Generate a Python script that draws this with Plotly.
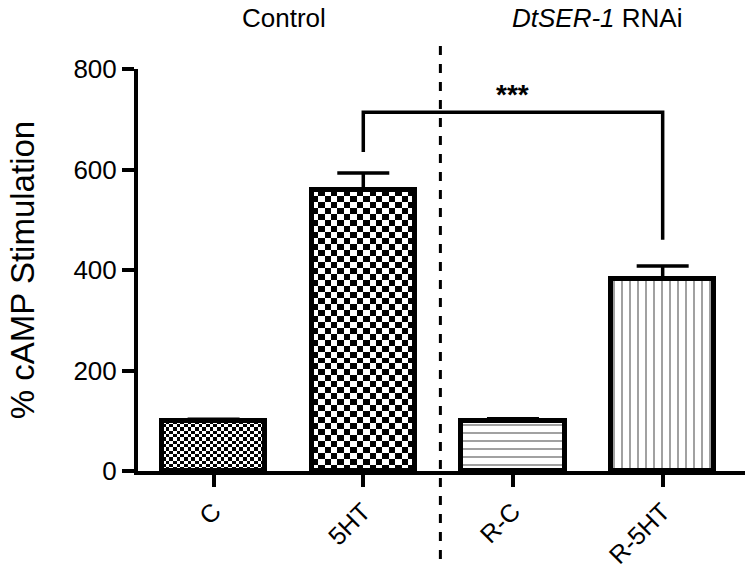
import numpy as np
import plotly.graph_objects as go

categories = ["C", "5HT", "R-C", "R-5HT"]
values = [100, 559, 100, 382]
errors = [3, 34, 4, 26]
group_labels = ["Control", "<i>DtSER-1</i> RNAi"]
y_ticks = [0, 200, 400, 600, 800]
bracket_x = [1, 1, 3, 3]
bracket_y = [635, 714, 714, 460]
sig_text = "<b>***</b>"

xpos = list(range(len(categories)))
bar_w = 0.69
FONT = "Liberation Sans, Arial, sans-serif"

fig = go.Figure()

# checkerboard fills for the Control bars (C fine, 5HT coarse)
checker = {0: (28, 6.6), 1: (16, 12.0)}
for i, (ncols, cell_h) in checker.items():
    nrows = int(round(values[i] / cell_h))
    xe = np.linspace(xpos[i] - bar_w / 2, xpos[i] + bar_w / 2, ncols + 1)
    ye = np.linspace(0, values[i], nrows + 1)
    z = (np.add.outer(np.arange(nrows), np.arange(ncols)) % 2).astype(int)
    fig.add_trace(go.Heatmap(x=xe, y=ye, z=z, zmin=0, zmax=1,
                             colorscale=[[0, "white"], [1, "black"]],
                             showscale=False, hoverinfo="skip", zsmooth=False))

fig.add_trace(go.Bar(
    x=xpos, y=values, width=bar_w,
    marker=dict(color=["rgba(0,0,0,0)", "rgba(0,0,0,0)", "white", "white"],
                line=dict(color="black", width=5),
                pattern=dict(shape=["", "", "-", "|"], fgcolor="black",
                             bgcolor="white", size=8, solidity=0.25)),
    error_y=dict(type="data", array=errors, arrayminus=[0] * 4, symmetric=False,
                 color="black", thickness=3.5, width=26),
    showlegend=False, hoverinfo="skip"))

fig.add_trace(go.Scatter(x=bracket_x, y=bracket_y, mode="lines",
                         line=dict(color="black", width=3.5), showlegend=False,
                         hoverinfo="skip"))

fig.add_annotation(x=2, y=750, text=sig_text, showarrow=False,
                   font=dict(family=FONT, size=28, color="black"))

for gx, lab in zip([0.47, 2.56], group_labels):
    fig.add_annotation(x=gx, xref="x", y=1.127, yref="paper", text=lab,
                       showarrow=False, yanchor="middle",
                       font=dict(family=FONT, size=26, color="black"))

fig.add_shape(type="line", xref="x", yref="paper", x0=1.515, x1=1.515,
              y0=-0.219, y1=1.072,
              line=dict(color="black", width=3, dash="dash"))

fig.update_layout(
    width=747, height=577,
    margin=dict(l=138, r=2, t=69, b=106, autoexpand=False),
    plot_bgcolor="white", paper_bgcolor="white",
    font=dict(family=FONT, color="black"),
    bargap=0,
    xaxis=dict(range=[-0.505, 3.55], tickmode="array", tickvals=xpos,
               ticktext=categories, tickangle=-45, showline=True,
               linecolor="black", linewidth=4, ticks="outside", ticklen=12,
               tickwidth=4, tickcolor="black", showgrid=False, zeroline=False,
               automargin=False, tickfont=dict(family=FONT, size=25)),
    yaxis=dict(range=[0, 800], tickvals=y_ticks, showline=True, linecolor="black",
               linewidth=4, ticks="outside", ticklen=12, tickwidth=4,
               tickcolor="black", showgrid=False, zeroline=False, automargin=False,
               tickfont=dict(family=FONT, size=26),
               title=dict(text="% cAMP Stimulation", standoff=30,
                          font=dict(family=FONT, size=33))),
)

fig.write_html("out.html", config={"displayModeBar": False},
               post_script="document.body.style.margin='0';document.body.style.overflow='hidden';")
